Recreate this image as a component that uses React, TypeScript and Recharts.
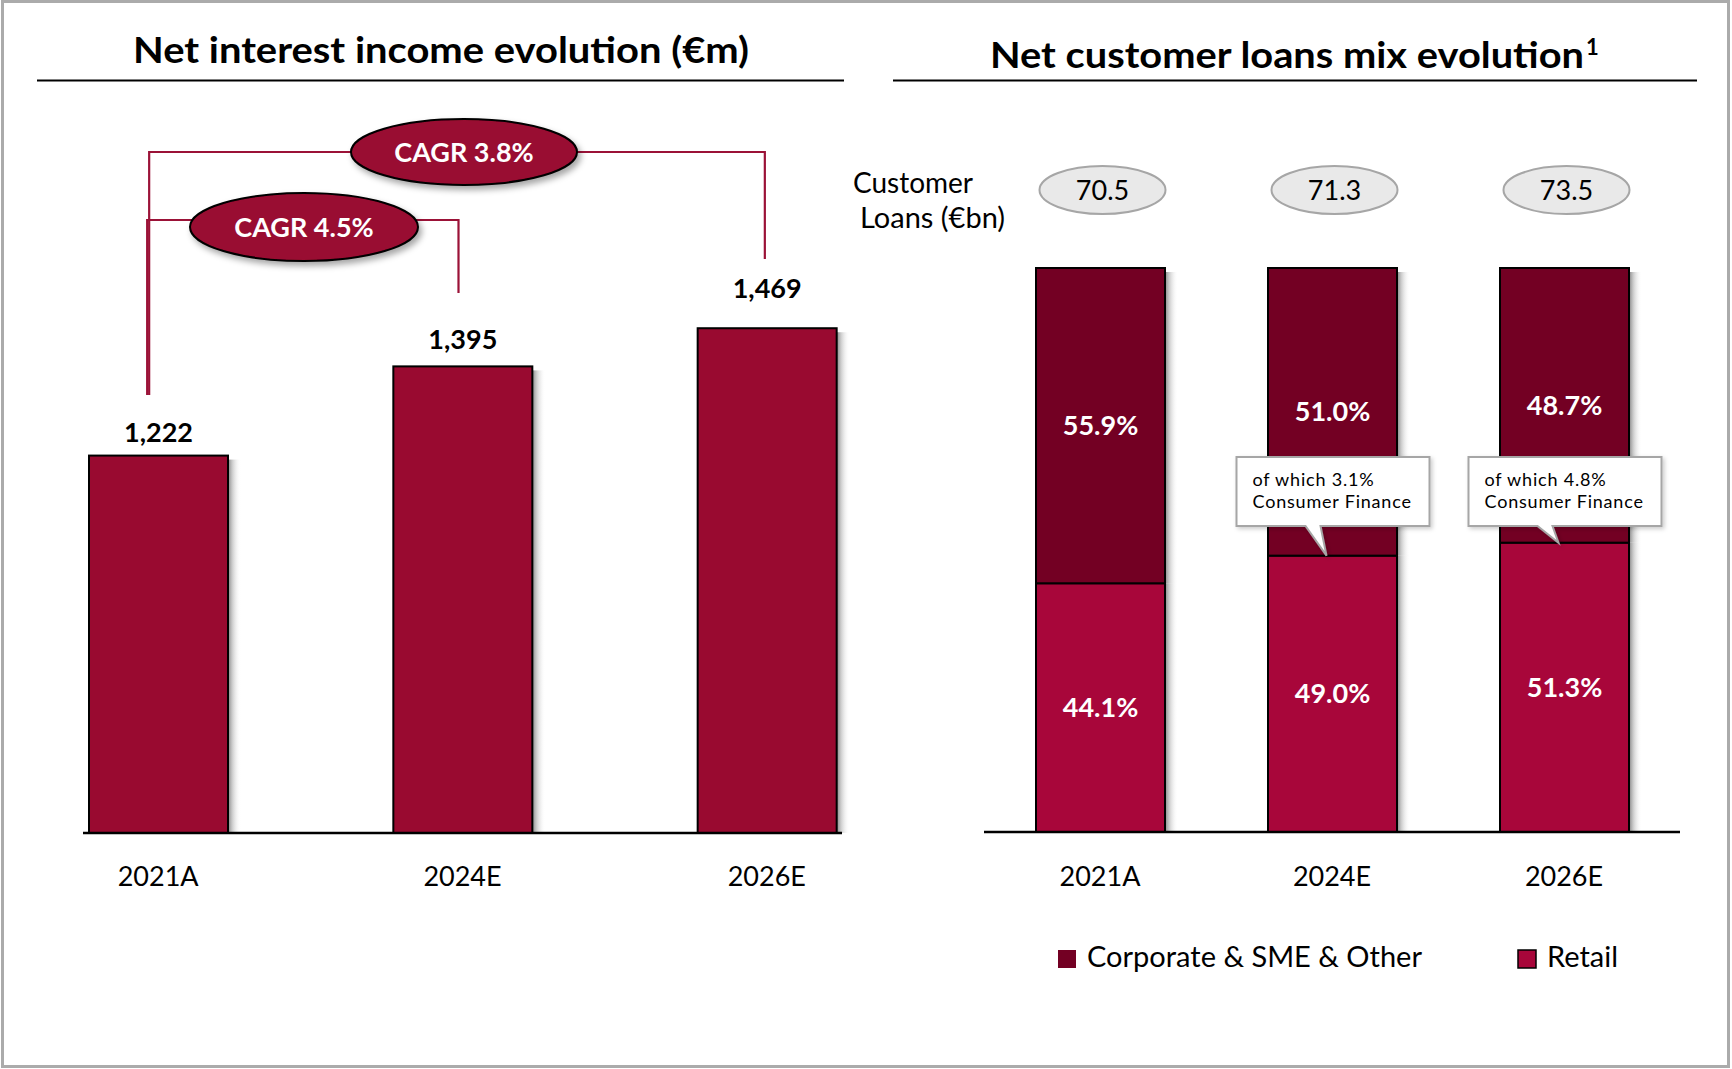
import React from 'react';
import { BarChart, Bar, XAxis, YAxis, LabelList } from 'recharts';

const years = ['2021A', '2024E', '2026E'];
const netInterestIncome = [1222, 1395, 1469];
const corporateShare = [55.9, 51.0, 48.7];
const retailShare = [44.1, 49.0, 51.3];
const customerLoans = [70.5, 71.3, 73.5];
const consumerFinanceShare = [null, 3.1, 4.8];
const cagrFull = 'CAGR 3.8%';
const cagrMid = 'CAGR 4.5%';

const niiData = years.map((year, i) => ({ year, nii: netInterestIncome[i] }));
const mixData = years.map((year, i) => ({
  year,
  retail: retailShare[i],
  corporate: corporateShare[i],
  loans: customerLoans[i],
  consumer: consumerFinanceShare[i],
}));

const FONT = 'Lato, "Open Sans", sans-serif';
const NII_RED = '#990a30';
const CORP = '#730023';
const RETAIL = '#a8063a';
const BRACKET = '#9b1237';

// left chart layout (page px)
const L = { width: 930, height: 1069, top: 106, right: 11, bottom: 176, left: 6, axisH: 60 };
const leftBand = (L.width - L.left - L.right) / years.length;
const leftCenter = (i: number) => L.left + leftBand * (i + 0.5);

// right chart layout
const R = { x: 870, width: 862, height: 1069, top: 268, right: 52, bottom: 177, left: 114, axisH: 60 };

const niiLift = [14, 17, 30];

const box = (p: any) => {
  const vb = p.viewBox && p.viewBox.width != null ? p.viewBox : p;
  return { x: Number(vb.x), y: Number(vb.y), width: Number(vb.width), height: Number(vb.height) };
};

const shadedBar = (fill: string, shadeDrop: number) => (props: any) => {
  const { x, y, width, height } = props;
  if (!height || height <= 0) return <g />;
  return (
    <g>
      <rect x={x + width} y={y + shadeDrop} width={13} height={Math.max(height - shadeDrop, 0)} fill="url(#sideShade)" />
      <rect x={x} y={y} width={width} height={height} fill={fill} stroke="#000" strokeWidth={2} />
    </g>
  );
};

const NiiLabel = (p: any) => {
  const b = box(p);
  return (
    <text
      x={b.x + b.width / 2}
      y={b.y - niiLift[p.index]}
      textAnchor="middle"
      fontSize={27}
      fontWeight={700}
      fontFamily={FONT}
      fill="#000"
    >
      {Number(p.value).toLocaleString('en-US')}
    </text>
  );
};

const LoansBubble = (p: any) => {
  const b = box(p);
  const cx = b.x + b.width / 2 + 2;
  const cy = R.top - 78;
  return (
    <g>
      <ellipse cx={cx} cy={cy} rx={63} ry={24} fill="#e9e9e9" stroke="#a6a6a6" strokeWidth={2} />
      <text x={cx} y={cy + 10} textAnchor="middle" fontSize={27} fontFamily={FONT} fill="#000">
        {customerLoans[p.index].toFixed(1)}
      </text>
    </g>
  );
};

const ConsumerCallout = (p: any) => {
  const share = consumerFinanceShare[p.index];
  if (share == null) return <g />;
  const b = box(p);
  const cx = b.x + b.width / 2;
  const x0 = cx - 96;
  const x1 = cx + 97;
  const y0 = R.top + 189;
  const y1 = y0 + 69;
  const d = `M${x0},${y0} H${x1} V${y1} H${cx - 12} L${cx - 6},${b.y} L${cx - 27},${y1} H${x0} Z`;
  return (
    <g>
      <path d={d} fill="#fff" stroke="#a6a6a6" strokeWidth={2} filter="url(#lightShadow)" />
      <text x={x0 + 16} y={y0 + 29} fontSize={18} letterSpacing={0.8} fontFamily={FONT} fill="#000">
        {`of which ${share.toFixed(1)}%`}
      </text>
      <text x={x0 + 16} y={y0 + 51} fontSize={18} letterSpacing={0.8} fontFamily={FONT} fill="#000">
        Consumer Finance
      </text>
    </g>
  );
};

const legendItems = [
  { name: 'Corporate & SME & Other', color: CORP, border: false, x: 1058 },
  { name: 'Retail', color: RETAIL, border: true, x: 1518 },
];

export default function App() {
  const c0 = leftCenter(0);
  const c1 = leftCenter(1);
  const c2 = leftCenter(2);
  return (
    <div style={{ position: 'absolute', left: 0, top: 0, width: 1732, height: 1069, background: '#fff', fontFamily: FONT }}>
      <div style={{ position: 'absolute', left: 0, top: 0 }}>
        <BarChart
          width={L.width}
          height={L.height}
          data={niiData}
          margin={{ top: L.top, right: L.right, bottom: L.bottom, left: L.left }}
        >
          <XAxis
            dataKey="year"
            height={L.axisH}
            axisLine={false}
            tickLine={false}
            tickSize={0}
            tickMargin={34}
            tick={{ fill: '#000', fontSize: 27, fontFamily: FONT }}
          />
          <YAxis hide domain={[490, 1900]} />
          <Bar dataKey="nii" barSize={139} fill={NII_RED} shape={shadedBar(NII_RED, 4)} isAnimationActive={false}>
            <LabelList dataKey="nii" content={NiiLabel} />
          </Bar>
        </BarChart>
      </div>

      <div style={{ position: 'absolute', left: R.x, top: 0 }}>
        <BarChart
          width={R.width}
          height={R.height}
          data={mixData}
          margin={{ top: R.top, right: R.right, bottom: R.bottom, left: R.left }}
        >
          <XAxis
            dataKey="year"
            height={R.axisH}
            axisLine={{ stroke: '#000', strokeWidth: 2.5 }}
            tickLine={false}
            tickSize={0}
            tickMargin={35}
            tick={{ fill: '#000', fontSize: 27, fontFamily: FONT }}
          />
          <YAxis hide domain={[0, 100]} />
          <Bar dataKey="retail" stackId="mix" barSize={129} fill={RETAIL} shape={shadedBar(RETAIL, 0)} isAnimationActive={false}>
            <LabelList
              dataKey="retail"
              position="center"
              formatter={(v: any) => `${Number(v).toFixed(1)}%`}
              style={{ fill: '#fff', fontSize: 27, fontWeight: 700, fontFamily: FONT }}
            />
          </Bar>
          <Bar dataKey="corporate" stackId="mix" barSize={129} fill={CORP} shape={shadedBar(CORP, 4)} isAnimationActive={false}>
            <LabelList
              dataKey="corporate"
              position="center"
              formatter={(v: any) => `${Number(v).toFixed(1)}%`}
              style={{ fill: '#fff', fontSize: 27, fontWeight: 700, fontFamily: FONT }}
            />
            <LabelList dataKey="loans" content={LoansBubble} />
          </Bar>
        </BarChart>
      </div>

      <svg width={1732} height={1069} style={{ position: 'absolute', left: 0, top: 0, pointerEvents: 'none' }}>
        <defs>
          <linearGradient id="sideShade" x1="0" x2="1" y1="0" y2="0">
            <stop offset="0" stopColor="#6e6e6e" stopOpacity={0.85} />
            <stop offset="0.35" stopColor="#a8a8a8" stopOpacity={0.55} />
            <stop offset="1" stopColor="#ffffff" stopOpacity={0} />
          </linearGradient>
          <filter id="softShadow" x="-20%" y="-20%" width="150%" height="160%">
            <feDropShadow dx="3" dy="4" stdDeviation="3" floodColor="#000" floodOpacity="0.35" />
          </filter>
          <filter id="lightShadow" x="-10%" y="-10%" width="130%" height="140%">
            <feDropShadow dx="2" dy="2" stdDeviation="2" floodColor="#000" floodOpacity="0.2" />
          </filter>
        </defs>

        <rect x={2.5} y={1.5} width={1726} height={1065} fill="none" stroke="#ababab" strokeWidth={3} />

        <text
          x={133}
          y={63}
          fontSize={37}
          fontWeight={700}
          fontFamily={FONT}
          fill="#000"
          textLength={616}
          lengthAdjust="spacingAndGlyphs"
        >
          Net interest income evolution (€m)
        </text>
        <line x1={37} x2={844} y1={80.5} y2={80.5} stroke="#000" strokeWidth={2} />

        <text
          x={990}
          y={68}
          fontSize={37}
          fontWeight={700}
          fontFamily={FONT}
          fill="#000"
          textLength={594}
          lengthAdjust="spacingAndGlyphs"
        >
          Net customer loans mix evolution
        </text>
        <text x={1586} y={55} fontSize={22} fontWeight={700} fontFamily={FONT} fill="#000">
          1
        </text>
        <line x1={893} x2={1697} y1={80.5} y2={80.5} stroke="#000" strokeWidth={2} />

        {/* left axis line */}
        <line x1={83} x2={842} y1={833} y2={833} stroke="#000" strokeWidth={2.5} />

        {/* CAGR brackets */}
        <path d={`M${c0 - 9},395 V152 H${c2 - 2} V259`} fill="none" stroke={BRACKET} strokeWidth={2.2} />
        <path d={`M${c0 - 11},395 V220 H${c1 - 4} V293`} fill="none" stroke={BRACKET} strokeWidth={2.2} />
        <g filter="url(#softShadow)">
          <ellipse cx={464} cy={152} rx={113} ry={33} fill={NII_RED} stroke="#000" strokeWidth={2} />
          <ellipse cx={304} cy={227} rx={114} ry={34} fill={NII_RED} stroke="#000" strokeWidth={2} />
        </g>
        <text x={464} y={162} textAnchor="middle" fontSize={27} fontWeight={700} fontFamily={FONT} fill="#fff">
          {cagrFull}
        </text>
        <text x={304} y={237} textAnchor="middle" fontSize={27} fontWeight={700} fontFamily={FONT} fill="#fff">
          {cagrMid}
        </text>

        <text x={853} y={193} fontSize={28} fontFamily={FONT} fill="#000">Customer</text>
        <text x={860} y={228} fontSize={29} fontFamily={FONT} fill="#000">Loans (€bn)</text>

        {legendItems.map((item) => (
          <g key={item.name}>
            <rect
              x={item.x}
              y={950}
              width={18}
              height={18}
              fill={item.color}
              stroke={item.border ? '#000' : 'none'}
              strokeWidth={1.5}
            />
            <text x={item.x + 29} y={967} fontSize={29} fontFamily={FONT} fill="#000">
              {item.name}
            </text>
          </g>
        ))}
      </svg>

      <div style={{ position: 'absolute', left: R.x, top: 0, pointerEvents: 'none' }}>
        <BarChart
          width={R.width}
          height={R.height}
          data={mixData}
          margin={{ top: R.top, right: R.right, bottom: R.bottom + R.axisH, left: R.left }}
        >
          <XAxis dataKey="year" hide />
          <YAxis hide domain={[0, 100]} />
          <Bar dataKey="retail" barSize={129} fill="none" shape={() => <g />} isAnimationActive={false}>
            <LabelList dataKey="consumer" content={ConsumerCallout} />
          </Bar>
        </BarChart>
      </div>
    </div>
  );
}
